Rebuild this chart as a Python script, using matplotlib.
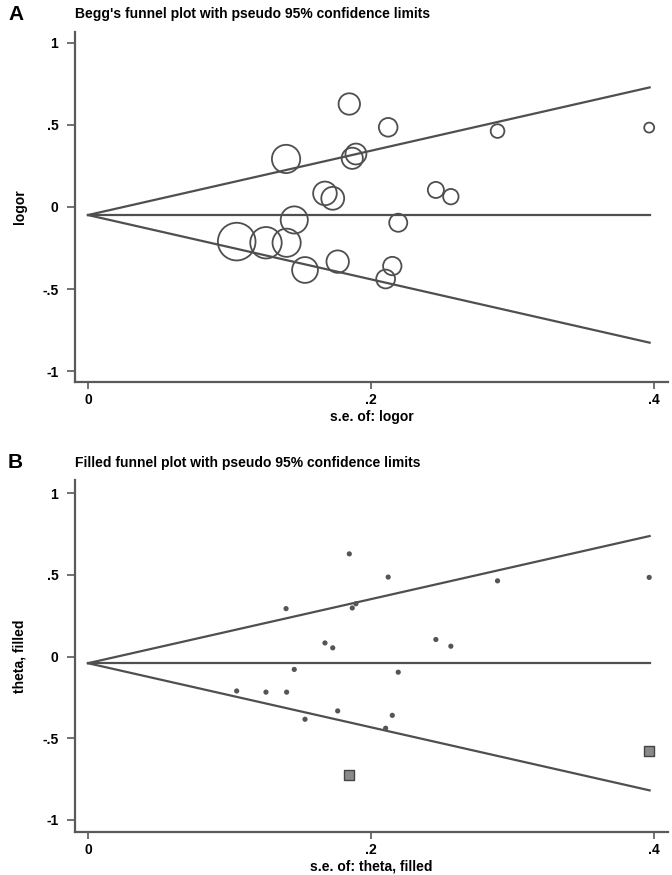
import numpy as np
import matplotlib
matplotlib.use("Agg")
import matplotlib.pyplot as plt

plt.rcParams['font.family'] = ['Liberation Sans', 'DejaVu Sans']

# ---- data ----
se = [0.1847, 0.2122, 0.1400, 0.1894, 0.1868, 0.1675, 0.1730, 0.2459, 0.2565,
      0.1458, 0.2193, 0.1051, 0.1258, 0.1404, 0.1534, 0.1765, 0.2151, 0.2104,
      0.2895, 0.3967]
logor = [0.628, 0.486, 0.293, 0.323, 0.297, 0.083, 0.053, 0.104, 0.063,
         -0.079, -0.096, -0.211, -0.218, -0.218, -0.384, -0.333, -0.360, -0.439,
         0.463, 0.484]
filled_se = [0.1847, 0.3967]
filled_theta = [-0.725, -0.581]
pooled_a = -0.049
pooled_b = -0.041
se_max = 0.397

xticks = [0, 0.2, 0.4]
xticklabels = ['0', '.2', '.4']
yticks = [-1, -0.5, 0, 0.5, 1]
yticklabels = ['-1', '-.5', '0', '.5', '1']

LC = '#4f4f4f'

fig = plt.figure(figsize=(6.72, 8.75), dpi=100)

def setup(ax, ylim, xlabel, ylabel, title, title_y):
    ax.set_xlim(-0.0092, 0.41)
    ax.set_ylim(*ylim)
    for s in ['top', 'right']:
        ax.spines[s].set_visible(False)
    for s in ['left', 'bottom']:
        ax.spines[s].set_color('#5a5a5a')
        ax.spines[s].set_linewidth(1.6)
    ax.set_xticks(xticks)
    ax.set_xticklabels(xticklabels, fontsize=10, fontweight='bold')
    ax.set_yticks(yticks)
    ax.set_yticklabels(yticklabels, fontsize=10, fontweight='bold')
    ax.tick_params(axis='y', direction='out', length=6, width=1.2, color='#5a5a5a', pad=6)
    ax.tick_params(axis='x', direction='out', length=5, width=1.2, color='#5a5a5a', pad=3)
    ax.set_xlabel(xlabel, fontsize=10, fontweight='bold', labelpad=2)
    ax.set_ylabel(ylabel, fontsize=10, fontweight='bold', labelpad=11)
    fig.text(75/672, title_y, title, fontsize=10, fontweight='bold', va='center', ha='left')

def funnel(ax, pooled):
    xs = np.array([0, se_max])
    ax.plot(xs, [pooled, pooled], color=LC, lw=1.6, zorder=1)
    ax.plot(xs, pooled + 1.96 * xs, color=LC, lw=1.6, zorder=1)
    ax.plot(xs, pooled - 1.96 * xs, color=LC, lw=1.6, zorder=1)

# Panel A
axA = fig.add_axes([75/672, 1 - 382/875, 593/672, 350/875])
setup(axA, (-1.067, 1.067), 's.e. of: logor', 'logor',
      "Begg's funnel plot with pseudo 95% confidence limits", 1 - 14/875)
funnel(axA, pooled_a)
se_arr = np.array(se)
sizes = (2.85 / se_arr) ** 2
axA.scatter(se, logor, s=sizes, facecolors='none', edgecolors=LC, linewidths=1.3, zorder=2)
fig.text(8/672, 1 - 15/875, 'A', fontsize=15, fontweight='bold', va='center', ha='left')

# Panel B
axB = fig.add_axes([75/672, 1 - 831.7/875, 593/672, 351.7/875])
setup(axB, (-1.072, 1.08), 's.e. of: theta, filled', 'theta, filled',
      "Filled funnel plot with pseudo 95% confidence limits", 1 - 463/875)
funnel(axB, pooled_b)
axB.scatter(se, logor, s=14, color='#555555', edgecolors='none', zorder=2)
axB.scatter(filled_se, filled_theta, s=45, marker='s', facecolors='#8a8a8a',
            edgecolors='#444444', linewidths=1.0, zorder=2)
fig.text(8/672, 1 - 462/875, 'B', fontsize=15, fontweight='bold', va='center', ha='left')

fig.savefig('out.png', dpi=100)
